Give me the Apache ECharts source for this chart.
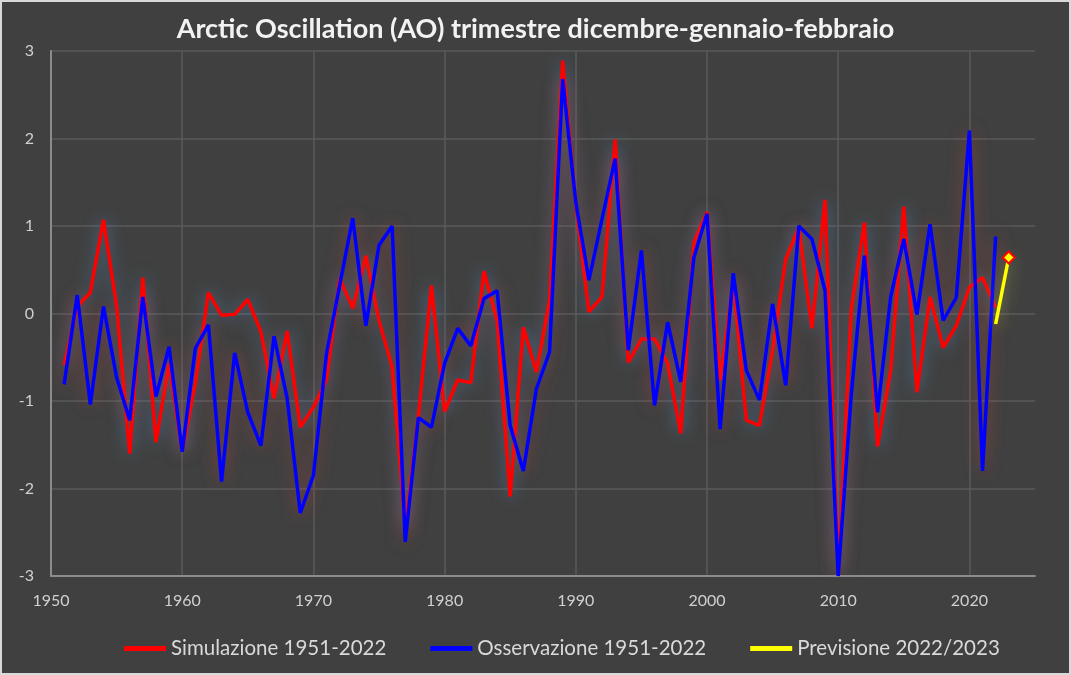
<!DOCTYPE html>
<html><head><meta charset="utf-8">
<script src="https://cdn.jsdelivr.net/npm/echarts@6/dist/echarts.min.js"></script>
<style>
html,body{margin:0;padding:0;background:#404040;}
#c{width:1071px;height:675px;box-sizing:border-box;border:2px solid #d9d9d9;background:#404040;}
</style></head>
<body><div id="c"></div>
<script>
const years = [1951,1952,1953,1954,1955,1956,1957,1958,1959,1960,1961,1962,1963,1964,1965,1966,1967,1968,1969,1970,1971,1972,1973,1974,1975,1976,1977,1978,1979,1980,1981,1982,1983,1984,1985,1986,1987,1988,1989,1990,1991,1992,1993,1994,1995,1996,1997,1998,1999,2000,2001,2002,2003,2004,2005,2006,2007,2008,2009,2010,2011,2012,2013,2014,2015,2016,2017,2018,2019,2020,2021,2022];
const simulazione = [-0.59,0.08,0.24,1.07,0.09,-1.60,0.41,-1.47,-0.57,-1.58,-0.80,0.24,-0.02,-0.01,0.16,-0.21,-0.97,-0.20,-1.30,-1.07,-0.76,0.40,0.06,0.66,-0.08,-0.61,-2.44,-1.18,0.32,-1.12,-0.76,-0.79,0.48,-0.08,-2.09,-0.16,-0.67,0.15,2.89,1.25,0.02,0.19,1.99,-0.56,-0.29,-0.29,-0.57,-1.37,0.81,1.16,-0.76,0.36,-1.22,-1.28,-0.42,0.62,0.98,-0.17,1.30,-2.97,0.05,1.04,-1.52,-0.65,1.22,-0.90,0.19,-0.39,-0.14,0.30,0.41,0.07];
const osservazione = [-0.81,0.21,-1.04,0.08,-0.73,-1.22,0.19,-0.95,-0.38,-1.58,-0.40,-0.13,-1.92,-0.45,-1.13,-1.51,-0.26,-0.97,-2.28,-1.85,-0.46,0.32,1.09,-0.14,0.78,1.00,-2.61,-1.19,-1.30,-0.57,-0.17,-0.37,0.17,0.26,-1.28,-1.80,-0.86,-0.44,2.68,1.27,0.38,1.08,1.77,-0.42,0.72,-1.05,-0.10,-0.78,0.64,1.14,-1.32,0.46,-0.65,-0.99,0.11,-0.82,1.00,0.85,0.26,-3.00,-0.92,0.66,-1.13,0.19,0.85,-0.01,1.02,-0.08,0.18,2.09,-1.80,0.88];
const previsioneYears = [2022,2023];
const previsione = [-0.12,0.64];
const seriesNames = ['Simulazione 1951-2022','Osservazione 1951-2022','Previsione 2022/2023'];
const yTicks = {min:-3,max:3,interval:1};
const xTicks = {min:1950,max:2025,interval:10};

const chart = echarts.init(document.getElementById('c'), null, {renderer:'canvas'});
const FONT = 'Lato, "Open Sans", sans-serif';
chart.setOption({
  animation:false,
  backgroundColor:'#404040',
  title:{text:'Arctic Oscillation (AO) trimestre dicembre-gennaio-febbraio',left:'center',top:9,
    textStyle:{color:'#f2f2f2',fontSize:27,fontWeight:'bold',fontFamily:FONT}},
  legend:{top:631,left:117,itemGap:44,itemWidth:42,itemHeight:5,icon:'rect',
    textStyle:{color:'#d9d9d9',fontSize:20.5,fontFamily:FONT},
    data:seriesNames.map(n=>({name:n,itemStyle:{borderWidth:0}}))},
  grid:{left:49,right:34,top:49,bottom:97,containLabel:false},
  xAxis:{type:'value',min:xTicks.min,max:xTicks.max,interval:xTicks.interval,
    axisLine:{show:true,onZero:false,lineStyle:{color:'#8c8c8c',width:2}},
    axisTick:{show:false},
    axisLabel:{color:'#d0d0d0',fontSize:16,fontFamily:FONT,margin:17,showMaxLabel:false,formatter:v=>String(v)},
    splitLine:{show:true,showMaxLine:false,lineStyle:{color:'#5a5a5a',width:1.5}}},
  yAxis:{type:'value',min:yTicks.min,max:yTicks.max,interval:yTicks.interval,
    axisLine:{show:true,lineStyle:{color:'#8c8c8c',width:2}},
    axisTick:{show:false},
    axisLabel:{color:'#d0d0d0',fontSize:16,fontFamily:FONT,margin:17},
    splitLine:{show:true,lineStyle:{color:'#5a5a5a',width:1.5}}},
  series:[
    {name:seriesNames[0],type:'line',showSymbol:false,symbol:'none',
     data:years.map((y,i)=>[y,simulazione[i]]),
     itemStyle:{color:'#ff0000'},
     lineStyle:{color:'#ff0000',width:3.5,shadowColor:'rgba(90,150,210,0.6)',shadowBlur:16},
     z:2},
    {name:seriesNames[1],type:'line',showSymbol:false,symbol:'none',
     data:years.map((y,i)=>[y,osservazione[i]]),
     itemStyle:{color:'#0000ff'},
     lineStyle:{color:'#0000ff',width:3.5,shadowColor:'rgba(210,70,70,0.55)',shadowBlur:16},
     z:3},
    {name:seriesNames[2],type:'line',symbol:'diamond',symbolSize:12,showSymbol:true,
     data:previsioneYears.map((y,i)=>({value:[y,previsione[i]],symbol:i===previsione.length-1?'diamond':'none'})),
     itemStyle:{color:'#ffff00',borderColor:'#ff0000',borderWidth:2},
     lineStyle:{color:'#ffff00',width:3.5,shadowColor:'rgba(200,230,90,0.65)',shadowBlur:16},
     z:4}
  ]
});
</script></body></html>
